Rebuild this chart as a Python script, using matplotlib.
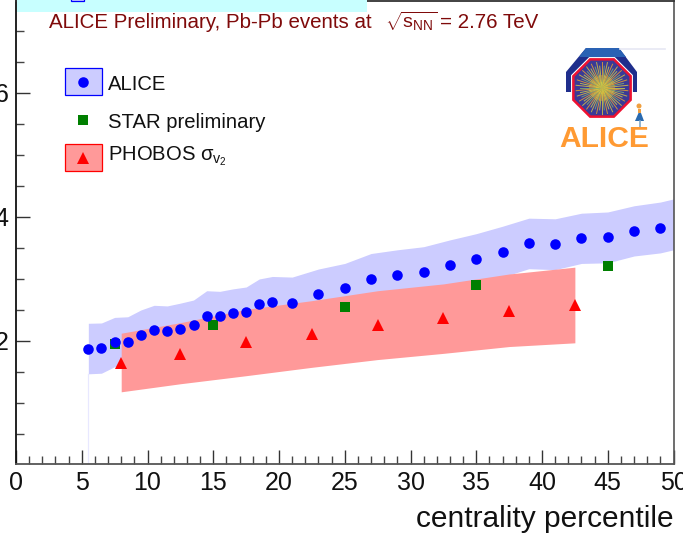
import numpy as np
import matplotlib
matplotlib.use("Agg")
import matplotlib.pyplot as plt
from matplotlib.lines import Line2D
from matplotlib.patches import Patch, Polygon, Rectangle, Circle
from matplotlib.legend_handler import HandlerTuple, HandlerLine2D

plt.rcParams['font.family'] = ['Liberation Sans', 'DejaVu Sans']
plt.rcParams['mathtext.fontset'] = 'custom'
plt.rcParams['mathtext.rm'] = 'Liberation Sans'
plt.rcParams['mathtext.it'] = 'Liberation Sans'
plt.rcParams['mathtext.bf'] = 'Liberation Sans:bold'

alice_x = [5.5, 6.5, 7.5, 8.5, 9.5, 10.5, 11.5, 12.5, 13.5, 14.5, 15.5, 16.5, 17.5, 18.5, 19.5,
           21, 23, 25, 27, 29, 31, 33, 35, 37, 39, 41, 43, 45, 47, 49]
alice_y = [1.87, 1.88, 1.98, 1.99, 2.10, 2.17, 2.16, 2.20, 2.26, 2.40, 2.40, 2.45, 2.46, 2.59, 2.63,
           2.62, 2.76, 2.85, 3.00, 3.06, 3.12, 3.22, 3.32, 3.44, 3.58, 3.57, 3.66, 3.68, 3.77, 3.82]
band_x = alice_x + [50]
band_up = [2.285, 2.29, 2.38, 2.39, 2.50, 2.575, 2.565, 2.61, 2.66, 2.81, 2.80, 2.84, 2.87, 3.00, 3.04,
           3.03, 3.16, 3.25, 3.41, 3.47, 3.52, 3.63, 3.73, 3.85, 3.98, 3.97, 4.06, 4.08, 4.18, 4.24, 4.29]
band_lo = [1.47, 1.48, 1.585, 1.58, 1.69, 1.76, 1.75, 1.79, 1.85, 1.99, 1.99, 2.04, 2.05, 2.18, 2.22,
           2.21, 2.35, 2.44, 2.59, 2.65, 2.71, 2.81, 2.91, 3.03, 3.165, 3.15, 3.25, 3.26, 3.37, 3.42, 3.47]

star_x = [7.5, 15, 25, 35, 45]
star_y = [1.95, 2.26, 2.555, 2.91, 3.215]

phobos_x = [8, 12.5, 17.5, 22.5, 27.5, 32.5, 37.5, 42.5]
phobos_y = [1.64, 1.795, 1.98, 2.11, 2.25, 2.365, 2.48, 2.575]
phobos_up = [2.125, 2.295, 2.51, 2.65, 2.81, 2.92, 3.08, 3.19]
phobos_lo = [1.18, 1.31, 1.44, 1.575, 1.70, 1.80, 1.91, 1.97]

x_major = [0, 5, 10, 15, 20, 25, 30, 35, 40, 45, 50]
y_major = [2, 4, 6]

W, H = 683, 540
fig = plt.figure(figsize=(W / 100, H / 100), dpi=100, facecolor='white')
ax = fig.add_axes([16 / W, 1 - 464 / H, (673.5 - 16) / W, (464 - 0.5) / H])
ax.set_xlim(0, 50)
ax.set_ylim(0.016, 7.49)

ax.fill_between(band_x, band_lo, band_up, color='#CCCCFF', lw=0, zorder=1)
ax.plot([5.5, 5.5], [0, 1.47], color='#E8E8FF', lw=0.9, zorder=1)
ax.fill_between(phobos_x, phobos_lo, phobos_up, color='#FF9999', lw=0, zorder=2)
ax.plot(star_x, star_y, ls='none', marker='s', ms=6.9, color='#007F00', mew=0, zorder=3)
ax.plot(phobos_x, phobos_y, ls='none', marker='^', ms=8.4, color='#FF0000', mew=0, zorder=4)
ax.plot(alice_x, alice_y, ls='none', marker='o', ms=7.6, color='#0000FF', mew=0, zorder=5)

ax.set_xticks(x_major)
ax.set_xticks(np.arange(0, 51, 1), minor=True)
ax.set_yticks(y_major)
ax.set_yticks(np.arange(0.5, 7.5, 0.5), minor=True)
ax.tick_params(axis='both', which='major', direction='in', length=10, width=1.0, color='#333333',
               labelsize=18, labelcolor='#111111')
ax.tick_params(axis='both', which='minor', direction='in', length=5.5, width=1.0, color='#444444')
ax.tick_params(axis='y', which='major', pad=5.5)
ax.tick_params(axis='x', which='major', pad=5)
ax.xaxis.set_major_formatter(lambda v, p: f'{v:.0f}')
ax.yaxis.set_major_formatter(lambda v, p: f'{v:.0f}')
for s, c, lw in [('left', '#111111', 1.3), ('bottom', '#555555', 1.3), ('right', '#555555', 1.2), ('top', '#333333', 1.3)]:
    ax.spines[s].set_color(c)
    ax.spines[s].set_linewidth(lw)

ax.set_xlabel('centrality percentile', fontsize=21.5, color='#111111', loc='right', labelpad=7)


class CenteredMarker(HandlerLine2D):
    """Marker in the middle of the legend box rather than above it."""
    def create_artists(self, legend, orig_handle, xdescent, ydescent, width, height, fontsize, trans):
        return super().create_artists(legend, orig_handle, xdescent, ydescent, width,
                                       height - ydescent, fontsize, trans)


h_alice = (Patch(fc='#CCCCFF', ec='#0000FF', lw=0.9),
           Line2D([], [], ls='none', marker='o', ms=7.6, color='#0000FF', mew=0))
h_star = Line2D([], [], ls='none', marker='s', ms=6.9, color='#007F00', mew=0)
h_phobos = (Patch(fc='#FF9999', ec='#FF0000', lw=0.9),
            Line2D([], [], ls='none', marker='^', ms=8.4, color='#FF0000', mew=0))
leg = ax.legend([h_alice, h_star, h_phobos],
                ['ALICE', 'STAR preliminary', r'PHOBOS $\sigma_{v_2}$'],
                loc='upper left', bbox_to_anchor=(65 / W, 1 - 68.5 / H), bbox_transform=fig.transFigure,
                frameon=False, borderpad=0, borderaxespad=0, fontsize=14.6,
                handlelength=1.8, handleheight=1.65, handletextpad=0.3, labelspacing=0.55,
                labelcolor='#111111',
                handler_map={tuple: HandlerTuple(ndivide=1, pad=0), Line2D: CenteredMarker()})
leg.set_zorder(6)
for t, dy in zip(leg.get_texts(), [-1.5, -2, 4]):
    t.set_y(dy)

# Overlay in pixel coordinates for the pasted banner and the logo
ov = fig.add_axes([0, 0, 1, 1], facecolor='none')
ov.set_xlim(0, W)
ov.set_ylim(H, 0)
ov.axis('off')
ov.add_patch(Rectangle((17, 0), 350, 12, fc='#C8FFFF', ec='none'))
ov.add_patch(Rectangle((71, -2), 13, 3, fc='#CCCCFF', ec='#0000FF', lw=0.9))

dark_red = '#7F0A0A'
ov.text(49, 28, 'ALICE Preliminary, Pb-Pb events at', fontsize=14.8, color=dark_red, va='baseline', ha='left')
ov.text(385, 28, r'$\sqrt{\mathrm{s}_{\mathrm{NN}}}$', fontsize=14, color=dark_red, va='baseline', ha='left')
ov.text(440, 28, '= 2.76 TeV', fontsize=14.8, color=dark_red, va='baseline', ha='left')

# ALICE logo
ov.plot([620, 665], [48.5, 48.5], color='#E6E8F4', lw=1.2)
arch = [(566, 92), (566, 72), (586, 48), (619, 48), (637, 72), (637, 92), (566, 92)]
ov.add_patch(Polygon(arch, fc='#1F2E8C', ec='none'))
ov.add_patch(Polygon([(586, 48), (619, 48), (626, 57), (579, 57)], fc='#2A62B4', ec='none'))
ang = np.deg2rad(22.5 + 45 * np.arange(8))
cx, cy = 602, 88
ov.add_patch(Polygon(np.c_[cx + 33.5 * np.cos(ang), cy + 33.5 * np.sin(ang)], fc='white', ec='none'))
ov.add_patch(Polygon(np.c_[cx + 31 * np.cos(ang), cy + 31 * np.sin(ang)], fc='#3A3A96', ec='#EE1030', lw=1.8))
ray_cols = ['#C8D04A', '#E8A030', '#7FB070', '#D8C040']
for i, a in enumerate(np.deg2rad(np.arange(0, 360, 6))):
    r = 26 if i % 2 else 22
    ov.plot([cx, cx + r * np.cos(a)], [cy, cy + r * np.sin(a)], color=ray_cols[i % 4], lw=0.7, alpha=0.85)
ov.add_patch(Circle((cx, cy), 13, fc='#D88A40', ec='none', alpha=0.5))
ov.add_patch(Circle((cx, cy), 6, fc='#F2A028', ec='none', alpha=0.9))
ov.add_patch(Circle((639, 106), 2.5, fc='#F0A040', ec='none'))
ov.add_patch(Polygon([(638, 109), (641, 109), (641, 113), (638, 113)], fc='#F0A040', ec='none'))
ov.add_patch(Polygon([(638.5, 113), (641, 113), (644, 121), (635, 121)], fc='#2A6AB0', ec='none'))
ov.plot([640, 640], [121, 127], color='#7FA8C8', lw=1.2)
ov.text(604.5, 147, 'ALICE', fontsize=21.6, fontweight='bold', color='#FF9A33', ha='center', va='baseline')

fig.savefig('out.png', dpi=100)
